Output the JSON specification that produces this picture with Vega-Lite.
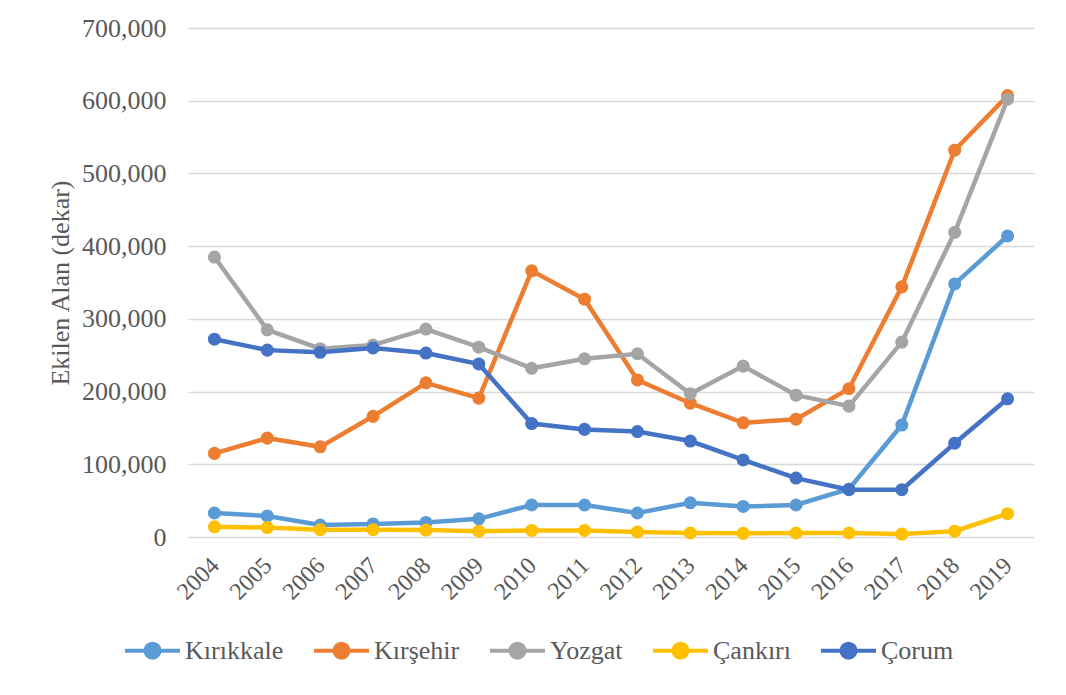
{
  "$schema": "https://vega.github.io/schema/vega-lite/v6.json",
  "width": 846,
  "height": 509,
  "autosize": {"type": "none"},
  "padding": {"left": 188, "top": 28, "right": 32, "bottom": 158},
  "background": "white",
  "config": {
    "view": {"stroke": null},
    "font": "'Liberation Serif', 'Times New Roman', serif",
    "axis": {"labelFont": "'Liberation Serif', 'Times New Roman', serif", "titleFont": "'Liberation Serif', 'Times New Roman', serif", "labelColor": "#595959", "titleColor": "#595959"},
    "legend": {"labelFont": "'Liberation Serif', 'Times New Roman', serif", "labelColor": "#595959"}
  },
  "data": {"values": [
    {"year": "2004", "il": "Kırıkkale", "value": 33000},
    {"year": "2005", "il": "Kırıkkale", "value": 29000},
    {"year": "2006", "il": "Kırıkkale", "value": 16500},
    {"year": "2007", "il": "Kırıkkale", "value": 18000},
    {"year": "2008", "il": "Kırıkkale", "value": 20000},
    {"year": "2009", "il": "Kırıkkale", "value": 25000},
    {"year": "2010", "il": "Kırıkkale", "value": 44000},
    {"year": "2011", "il": "Kırıkkale", "value": 44000},
    {"year": "2012", "il": "Kırıkkale", "value": 33000},
    {"year": "2013", "il": "Kırıkkale", "value": 47000},
    {"year": "2014", "il": "Kırıkkale", "value": 42000},
    {"year": "2015", "il": "Kırıkkale", "value": 44000},
    {"year": "2016", "il": "Kırıkkale", "value": 66000},
    {"year": "2017", "il": "Kırıkkale", "value": 154000},
    {"year": "2018", "il": "Kırıkkale", "value": 348000},
    {"year": "2019", "il": "Kırıkkale", "value": 414000},
    {"year": "2004", "il": "Kırşehir", "value": 115000},
    {"year": "2005", "il": "Kırşehir", "value": 136000},
    {"year": "2006", "il": "Kırşehir", "value": 124000},
    {"year": "2007", "il": "Kırşehir", "value": 166000},
    {"year": "2008", "il": "Kırşehir", "value": 212000},
    {"year": "2009", "il": "Kırşehir", "value": 191000},
    {"year": "2010", "il": "Kırşehir", "value": 366000},
    {"year": "2011", "il": "Kırşehir", "value": 327000},
    {"year": "2012", "il": "Kırşehir", "value": 216000},
    {"year": "2013", "il": "Kırşehir", "value": 184000},
    {"year": "2014", "il": "Kırşehir", "value": 157000},
    {"year": "2015", "il": "Kırşehir", "value": 162000},
    {"year": "2016", "il": "Kırşehir", "value": 204000},
    {"year": "2017", "il": "Kırşehir", "value": 344000},
    {"year": "2018", "il": "Kırşehir", "value": 532000},
    {"year": "2019", "il": "Kırşehir", "value": 607000},
    {"year": "2004", "il": "Yozgat", "value": 385000},
    {"year": "2005", "il": "Yozgat", "value": 285000},
    {"year": "2006", "il": "Yozgat", "value": 259000},
    {"year": "2007", "il": "Yozgat", "value": 264000},
    {"year": "2008", "il": "Yozgat", "value": 286000},
    {"year": "2009", "il": "Yozgat", "value": 261000},
    {"year": "2010", "il": "Yozgat", "value": 232000},
    {"year": "2011", "il": "Yozgat", "value": 245000},
    {"year": "2012", "il": "Yozgat", "value": 252000},
    {"year": "2013", "il": "Yozgat", "value": 197000},
    {"year": "2014", "il": "Yozgat", "value": 235000},
    {"year": "2015", "il": "Yozgat", "value": 195000},
    {"year": "2016", "il": "Yozgat", "value": 180000},
    {"year": "2017", "il": "Yozgat", "value": 268000},
    {"year": "2018", "il": "Yozgat", "value": 419000},
    {"year": "2019", "il": "Yozgat", "value": 602000},
    {"year": "2004", "il": "Çankırı", "value": 14000},
    {"year": "2005", "il": "Çankırı", "value": 13000},
    {"year": "2006", "il": "Çankırı", "value": 10000},
    {"year": "2007", "il": "Çankırı", "value": 10000},
    {"year": "2008", "il": "Çankırı", "value": 9500},
    {"year": "2009", "il": "Çankırı", "value": 8000},
    {"year": "2010", "il": "Çankırı", "value": 9000},
    {"year": "2011", "il": "Çankırı", "value": 9000},
    {"year": "2012", "il": "Çankırı", "value": 7000},
    {"year": "2013", "il": "Çankırı", "value": 5500},
    {"year": "2014", "il": "Çankırı", "value": 5000},
    {"year": "2015", "il": "Çankırı", "value": 5500},
    {"year": "2016", "il": "Çankırı", "value": 5500},
    {"year": "2017", "il": "Çankırı", "value": 4000},
    {"year": "2018", "il": "Çankırı", "value": 8000},
    {"year": "2019", "il": "Çankırı", "value": 32000},
    {"year": "2004", "il": "Çorum", "value": 272000},
    {"year": "2005", "il": "Çorum", "value": 257000},
    {"year": "2006", "il": "Çorum", "value": 254000},
    {"year": "2007", "il": "Çorum", "value": 260000},
    {"year": "2008", "il": "Çorum", "value": 253000},
    {"year": "2009", "il": "Çorum", "value": 238000},
    {"year": "2010", "il": "Çorum", "value": 156000},
    {"year": "2011", "il": "Çorum", "value": 148000},
    {"year": "2012", "il": "Çorum", "value": 145000},
    {"year": "2013", "il": "Çorum", "value": 132000},
    {"year": "2014", "il": "Çorum", "value": 106000},
    {"year": "2015", "il": "Çorum", "value": 81000},
    {"year": "2016", "il": "Çorum", "value": 65000},
    {"year": "2017", "il": "Çorum", "value": 65000},
    {"year": "2018", "il": "Çorum", "value": 129000},
    {"year": "2019", "il": "Çorum", "value": 190000}
  ]},
  "encoding": {
    "x": {
      "field": "year", "type": "ordinal",
      "scale": {"type": "point", "padding": 0.5},
      "axis": {"title": null, "labelAngle": -45, "labelFontSize": 24, "domain": false, "ticks": false, "grid": false, "labelPadding": 16, "labelOffset": -8}
    },
    "y": {
      "field": "value", "type": "quantitative",
      "scale": {"domain": [0, 700000], "nice": false},
      "axis": {
        "title": "Ekilen Alan (dekar)", "titleFontSize": 26, "titleFontWeight": "normal", "titlePadding": 8,
        "values": [0, 100000, 200000, 300000, 400000, 500000, 600000, 700000],
        "format": ",d", "labelFontSize": 26, "labelPadding": 22,
        "domain": false, "ticks": false, "grid": true, "gridColor": "#D9D9D9", "gridWidth": 1.5
      }
    },
    "color": {
      "field": "il", "type": "nominal",
      "scale": {"domain": ["Kırıkkale", "Kırşehir", "Yozgat", "Çankırı", "Çorum"], "range": ["#5B9BD5", "#ED7D31", "#A5A5A5", "#FFC000", "#4472C4"]},
      "legend": {
        "title": null, "orient": "none", "direction": "horizontal", "legendX": -65, "legendY": 593,
        "labelFontSize": 26, "columnPadding": 22, "labelOffset": 3,
        "symbolType": "M-1,0L1,0M-0.255,0A0.255,0.255,0,1,0,0.255,0A0.255,0.255,0,1,0,-0.255,0",
        "symbolSize": 3025, "symbolStrokeWidth": 4,
        "encode": {"symbols": {"update": {"fill": {"scale": "color", "field": "value"}, "stroke": {"scale": "color", "field": "value"}, "opacity": {"value": 1}}}}
      }
    }
  },
  "layer": [
    {"mark": {"type": "line", "strokeWidth": 4.5}},
    {"mark": {"type": "point", "filled": true, "size": 170, "opacity": 1}}
  ]
}
